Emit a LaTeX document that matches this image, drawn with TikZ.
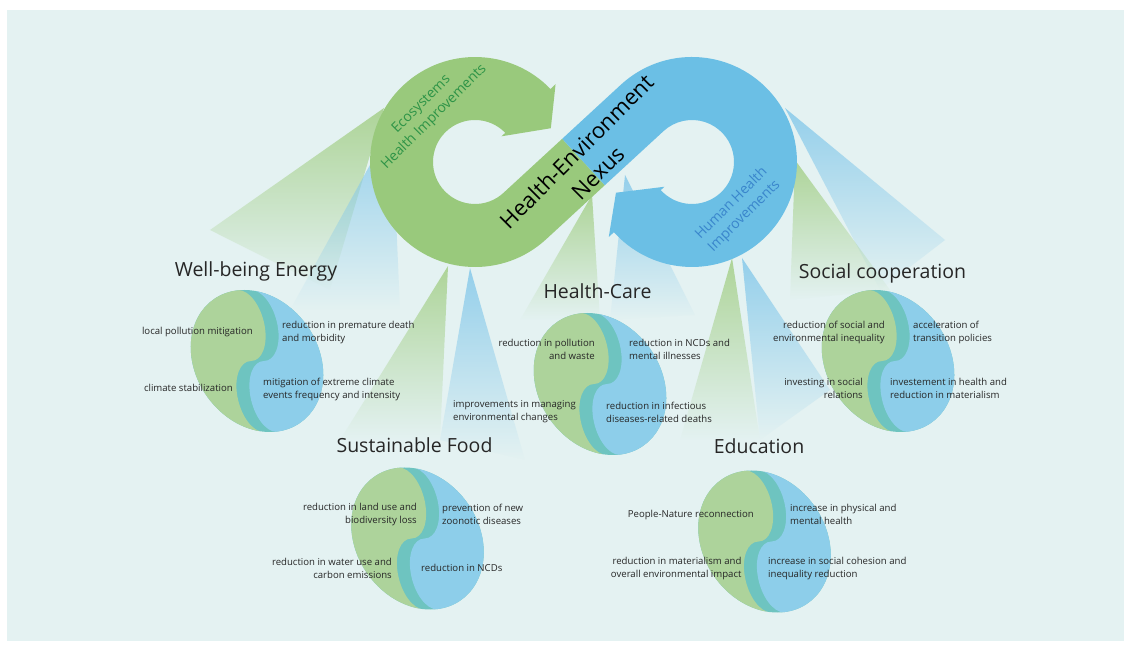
\documentclass[tikz,border=0pt]{standalone}
\usepackage{fontspec}
\setmainfont{Open Sans}
\usetikzlibrary{fadings}

\definecolor{bg}{HTML}{E4F2F2}
\definecolor{ecogreen}{HTML}{99C97C}
\definecolor{humanblue}{HTML}{6BBFE5}
\definecolor{ecotext}{HTML}{2E9447}
\definecolor{humantext}{HTML}{3A86CC}
\definecolor{discgreen}{HTML}{ADD39B}
\definecolor{discteal}{HTML}{6EC4C0}
\definecolor{discblue}{HTML}{8DCEEA}
\definecolor{beamgreen}{HTML}{A4CF88}
\definecolor{beamblue}{HTML}{86C9EA}
\definecolor{ink}{HTML}{262626}

\tikzfading[name=beamfade, top color=transparent!15, middle color=transparent!72, bottom color=transparent!100]

\begin{document}
\begin{tikzpicture}[x=1pt,y=1pt]

\tikzset{beamg/.style={fill=beamgreen,path fading=beamfade}}
\tikzset{beamb/.style={fill=beamblue,path fading=beamfade}}
\tikzset{heading/.style={inner sep=0pt,anchor=base,text=ink,font=\fontsize{19.5}{24}\selectfont}}
\tikzset{item/.style={inner sep=0pt,text=ink,font=\fontsize{9.6}{13}\selectfont}}
\tikzset{loop/.style={rotate=45,align=center,inner sep=0pt,font=\fontsize{14}{18}\selectfont}}
\tikzset{pics/disc/.style={code={
  \begin{scope}[xslant=-0.18]
    \fill[discteal] (0,0) ellipse[x radius=65,y radius=71];
    \clip (0,0) ellipse[x radius=65,y radius=71];
    \fill[discgreen] (-6,71) arc[start angle=90,end angle=-90,x radius=20,y radius=35.5]
      arc[start angle=90,end angle=270,x radius=20,y radius=35.5] -- (-80,-71) -- (-80,71) -- cycle;
    \fill[discblue] (7,71) arc[start angle=90,end angle=-90,x radius=20,y radius=35.5]
      arc[start angle=90,end angle=270,x radius=20,y radius=35.5] -- (80,-71) -- (80,71) -- cycle;
  \end{scope}
}}}

\useasboundingbox (0,0) rectangle (1131,650);
\fill[white] (0,0) rectangle (1131,650);
\fill[bg] (7,9) rectangle (1124,640);

% beams
\path[beamg] (384,542) -- (210,420) -- (330,360) -- cycle;
\path[beamb] (392,525) -- (290,340) -- (400,340) -- cycle;
\path[beamg] (448,384) -- (340,210) -- (440,210) -- cycle;
\path[beamb] (470,382) -- (440,210) -- (525,190) -- cycle;
\path[beamg] (592,455) -- (520,330) -- (600,330) -- cycle;
\path[beamb] (625,475) -- (610,330) -- (695,335) -- cycle;
\path[beamg] (732,392) -- (680,210) -- (760,210) -- cycle;
\path[beamb] (742,392) -- (760,210) -- (830,260) -- cycle;
\path[beamb] (785,542) -- (945,410) -- (880,360) -- cycle;
\path[beamg] (795,490) -- (790,350) -- (890,360) -- cycle;

% the loop
\coordinate (eco) at (475,488);
\coordinate (hum) at (692,488);
\fill[ecogreen] (604.8,464.8) -- (546.1,410.7) arc[start angle=-47.4,end angle=-316,radius=105]
  -- ([shift={(44:112)}]eco) -- ([shift={(24:83)}]eco) -- ([shift={(44:37)}]eco) -- ([shift={(44:42)}]eco)
  arc[start angle=44,end angle=312.6,radius=42] -- (562.2,511.2) -- cycle;
\fill[humanblue] (562.2,511.2) -- (620.9,565.3) arc[start angle=132.6,end angle=-138,radius=105]
  -- ([shift={(-138:112)}]hum) -- ([shift={(-158:82)}]hum) -- ([shift={(-138:37)}]hum) -- ([shift={(-138:42)}]hum)
  arc[start angle=-138,end angle=132.6,radius=42] -- (604.8,464.8) -- cycle;

\node[loop,text=ecotext] (ecolabel) at (428,539) {Ecosystems\\Health Improvements};
\node[loop,text=humantext] (humlabel) at (738,440) {Human Health\\Improvements};
\node[loop,text=black,font=\fontsize{22}{30}\selectfont] (nexus) at (587,488) {Health-Environment\\Nexus};

% discs
\pic (energydisc) at (257,289) {disc};
\pic (caredisc) at (600,266) {disc};
\pic (socialdisc) at (888,289) {disc};
\pic (fooddisc) at (417.5,111.5) {disc};
\pic (edudisc) at (764.5,108.5) {disc};

\node[heading] (energy) at (256,373) {Well-being Energy};
\node[heading] (care) at (597.5,351) {Health-Care};
\node[heading] (social) at (882.5,371) {Social cooperation};
\node[heading] (food) at (414.5,197) {Sustainable Food};
\node[heading] (edu) at (759,196) {Education};

\node[item,anchor=east] (e1) at (253,318) {local pollution mitigation};
\node[item,anchor=east] (e2) at (233,262) {climate stabilization};
\node[item,anchor=west,align=left] (e3) at (282,317.5) {reduction in premature death\\and morbidity};
\node[item,anchor=west,align=left] (e4) at (263,260.5) {mitigation of extreme climate\\events frequency and intensity};

\node[item,anchor=east,align=right] (c1) at (595,301) {reduction in pollution\\and waste};
\node[item,anchor=west,align=left] (c2) at (629,301) {reduction in NCDs and\\mental illnesses};
\node[item,anchor=west,align=left] (c3) at (453,238) {improvements in managing\\environmental changes};
\node[item,anchor=west,align=left] (c4) at (606,238) {reduction in infectious\\diseases-related deaths};

\node[item,anchor=east,align=right] (s1) at (885,318) {reduction of social and\\environmental inequality};
\node[item,anchor=west,align=left] (s2) at (913,318) {acceleration of\\transition policies};
\node[item,anchor=east,align=right] (s3) at (863,261.5) {investing in social\\relations};
\node[item,anchor=west,align=left] (s4) at (890,261.5) {investement in health and\\reduction in materialism};

\node[item,anchor=east,align=right] (f1) at (417,135.5) {reduction in land use and\\biodiversity loss};
\node[item,anchor=west,align=left] (f2) at (442,135.5) {prevention of new\\zoonotic diseases};
\node[item,anchor=east,align=right] (f3) at (392,81.5) {reduction in water use and\\carbon emissions};
\node[item,anchor=west] (f4) at (421,82) {reduction in NCDs};

\node[item,anchor=east] (d1) at (754,135) {People-Nature reconnection};
\node[item,anchor=west,align=left] (d2) at (790,135.3) {increase in physical and\\mental health};
\node[item,anchor=east,align=right] (d3) at (741.7,81.3) {reduction in materialism and\\overall environmental impact};
\node[item,anchor=west,align=left] (d4) at (768,81.3) {increase in social cohesion and\\inequality reduction};

\end{tikzpicture}
\end{document}
